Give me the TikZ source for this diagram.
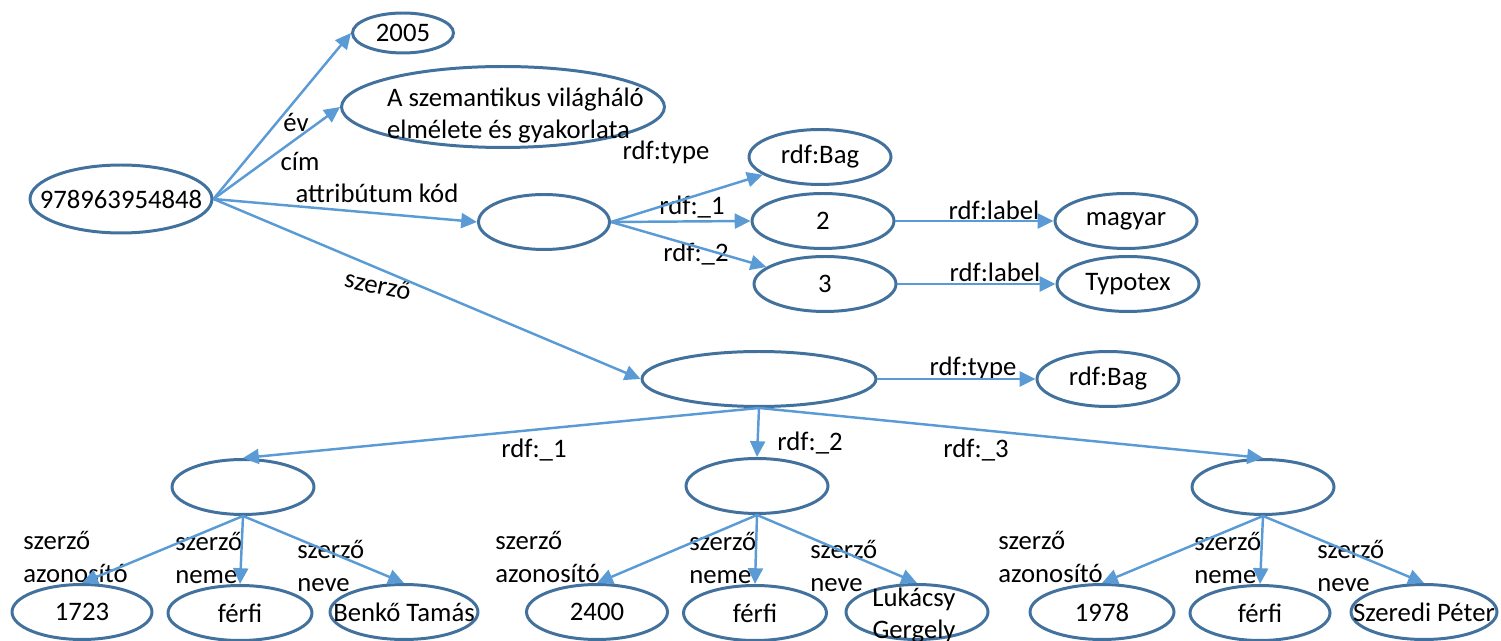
\documentclass[tikz,border=0pt]{standalone}
\usepackage{fontspec}
\setmainfont{Carlito}
\usetikzlibrary{arrows.meta,shapes.geometric,positioning}
\definecolor{linkblue}{HTML}{5B9BD5}
\definecolor{ringblue}{HTML}{41719C}
\tikzset{
  res/.style={ellipse, draw=ringblue, line width=1.7pt, inner sep=0pt,
    minimum width=2.84cm, minimum height=1.1cm},
  link/.style={->, draw=linkblue, line width=1.4pt},
  prop/.style={inner sep=0pt},
  pair/.style={inner sep=0pt, anchor=west, align=left,
    font=\fontsize{15.2}{19.3}\selectfont},
}
\newcommand{\inbox}[1]{\makebox[0pt]{#1}}
\newcommand{\lowbox}[2]{\makebox[0pt]{\raisebox{#1}[0pt][0pt]{#2}}}

\begin{document}
\begin{tikzpicture}[x=0.02cm, y=-0.02cm, >={Triangle[length=9pt,width=8.5pt]},
    font=\fontsize{15.2}{18.5}\selectfont]
  \useasboundingbox (0,0) rectangle (1501,641);

  % Define coordinates for nodes
  \node[res, minimum width=3.64cm, minimum height=1.36cm] (isbn) at (121,199) {\inbox{978963954848}};
  \node[res, minimum width=2.02cm, minimum height=0.8cm] (year) at (403,33) {2005};
  \node[res, minimum width=6.46cm, minimum height=1.62cm] (title) at (503,107)
    {\lowbox{-0.31cm}{\hspace*{0.5cm}\begin{tabular}{@{}l@{}}A szemantikus világháló\\ elmélete és gyakorlata\end{tabular}}};
  \node[res, minimum width=2.62cm] (attr) at (544,222) {};
  \node[res] (bagA) at (820,157) {rdf:Bag};
  \node[res] (two) at (823,221) {2};
  \node[res] (three) at (825,284) {3};
  \node[res] (magyar) at (1126,221) {magyar};
  \node[res] (typotex) at (1128,284) {Typotex};
  \node[res, minimum width=4.68cm] (authors) at (759,379) {};
  \node[res] (bagB) at (1108,379) {rdf:Bag};
  \node[res] (aut1) at (243,487) {};
  \node[res] (aut2) at (757,486) {};
  \node[res] (aut3) at (1263,487) {};
  \node[res, minimum width=2.8cm] (id1) at (82,612) {1723};
  \node[res, minimum width=2.88cm] (sex1) at (240,613) {férfi};
  \node[res, minimum width=2.96cm] (name1) at (404,612) {\inbox{Benkő Tamás}};
  \node[res, minimum width=2.82cm] (id2) at (597,612) {2400};
  \node[res, minimum width=2.86cm] (sex2) at (755,613) {férfi};
  \node[res, minimum width=2.84cm] (name2) at (917,612)
    {\lowbox{-0.21cm}{\begin{tabular}{@{}c@{}}Lukácsy\\ Gergely\end{tabular}\hspace*{0.12cm}}};
  \node[res, minimum width=2.88cm] (id3) at (1102,612) {1978};
  \node[res, minimum width=2.8cm] (sex3) at (1260,613) {férfi};
  \node[res, minimum width=2.92cm] (name3) at (1424,612) {\inbox{Szeredi Péter}};

  % Property labels
  \node[prop] (lyear) at (296,122) {év};
  \node[prop] (ltitle) at (300,161) {cím};
  \node[prop] (lattr) at (377,193) {attribútum kód};
  \node[prop, rotate=-12] (lauth) at (378,285) {szerző};
  \node[prop] (ltypeA) at (666,152) {rdf:type};
  \node[prop] (lone) at (692,207) {rdf:\_1};
  \node[prop] (ltwo) at (696,254) {rdf:\_2};
  \node[prop] (llabA) at (994,210) {rdf:label};
  \node[prop] (llabB) at (995,272) {rdf:label};
  \node[prop] (ltypeB) at (973,368) {rdf:type};
  \node[prop] (lsone) at (534,450) {rdf:\_1};
  \node[prop] (lstwo) at (810,443) {rdf:\_2};
  \node[prop] (lsthree) at (976,450) {rdf:\_3};
  \node[pair] (lid1) at (23,557) {szerző\\azonosító};
  \node[pair] (lsex1) at (175,558) {szerző\\neme};
  \node[pair] (lname1) at (297,566) {szerző\\neve};
  \node[pair] (lid2) at (495,557) {szerző\\azonosító};
  \node[pair] (lsex2) at (689,558) {szerző\\neme};
  \node[pair] (lname2) at (810,566) {szerző\\neve};
  \node[pair] (lid3) at (998,557) {szerző\\azonosító};
  \node[pair] (lsex3) at (1194,558) {szerző\\neme};
  \node[pair] (lname3) at (1317,566) {szerző\\neve};

  % Draw arrows between nodes
  \draw[link] (isbn.east) -- (year.west);
  \draw[link] (isbn.east) -- (title.west);
  \draw[link] (isbn.east) -- (attr.west);
  \draw[link] (isbn.east) -- (authors.west);
  \draw[link] (attr.east) -- (bagA);
  \draw[link] (attr.east) -- (two.west);
  \draw[link] (attr.east) -- (three);
  \draw[link] (two.east) -- (magyar.west);
  \draw[link] (three.east) -- (typotex.west);
  \draw[link] (authors.east) -- (bagB.west);
  \draw[link] (authors.south) -- (aut1.north);
  \draw[link] (authors.south) -- (aut2.north);
  \draw[link] (authors.south) -- (aut3.north);
  \draw[link] (aut1.south) -- (id1.north);
  \draw[link] (aut1.south) -- (sex1.north);
  \draw[link] (aut1.south) -- (name1.north);
  \draw[link] (aut2.south) -- (id2.north);
  \draw[link] (aut2.south) -- (sex2.north);
  \draw[link] (aut2.south) -- (name2.north);
  \draw[link] (aut3.south) -- (id3.north);
  \draw[link] (aut3.south) -- (sex3.north);
  \draw[link] (aut3.south) -- (name3.north);

\end{tikzpicture}
\end{document}
